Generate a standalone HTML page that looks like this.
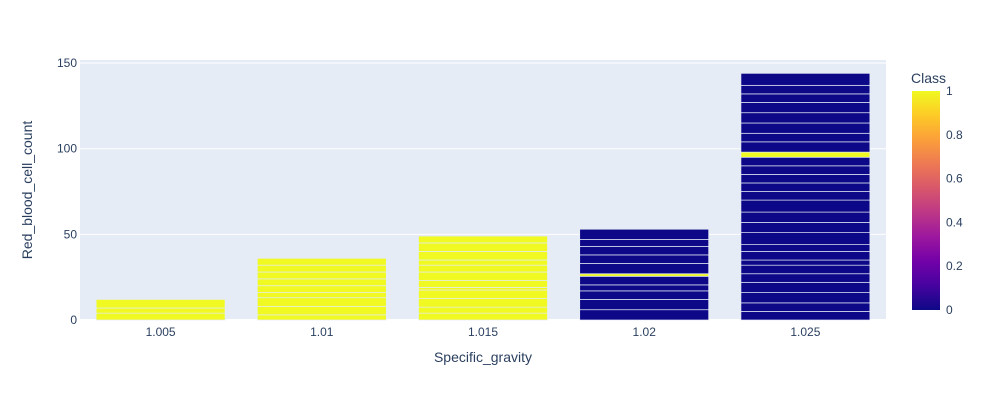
<!DOCTYPE html>
<html><head><meta charset="utf-8"><style>
body{margin:0;background:#fff;font-family:"Liberation Sans",Arial,sans-serif}
svg text{font-family:"Liberation Sans",Arial,sans-serif;fill:#2a3f5f}
</style></head><body>
<svg id="chart" width="983" height="400">
<defs><linearGradient id="plasma" x1="0" y1="1" x2="0" y2="0">
<stop offset="0" stop-color="#0d0887"/><stop offset="0.111" stop-color="#46039f"/><stop offset="0.222" stop-color="#7201a8"/><stop offset="0.333" stop-color="#9c179e"/><stop offset="0.444" stop-color="#bd3786"/><stop offset="0.556" stop-color="#d8576b"/><stop offset="0.667" stop-color="#ed7953"/><stop offset="0.778" stop-color="#fb9f3a"/><stop offset="0.889" stop-color="#fdca26"/><stop offset="1" stop-color="#f0f921"/></linearGradient></defs>
<rect x="80" y="60" width="806" height="260" fill="#e5ecf6"/>
<g id="grid"></g><g id="bars"></g><g id="axes"></g>
<text x="483" y="362" text-anchor="middle" font-size="14">Specific_gravity</text>
<text transform="translate(32,190) rotate(-90)" text-anchor="middle" font-size="14">Red_blood_cell_count</text>
<text x="911" y="83" font-size="14">Class</text>
<rect x="912" y="91" width="28" height="219" fill="url(#plasma)"/>
<g id="cb"></g>
</svg>
<script>
const categories=["1.005","1.01","1.015","1.02","1.025"];
const segValues=[[4,3,5],[3,5,5,3,4,4,4,4,4],[4,3.5,5,5,1.5,4,5,4,3,5,5,4],[6,6,5,3.5,5,1.5,6,5,5,4,6],[5,5,6,6,5,5,3,5,4,7,6,6,7,5,5,5,5,5,3,6,5,6,6,6,5,5,7]];
const segClass=[[1,1,1],[1,1,1,1,1,1,1,1,1],[1,1,1,1,1,1,1,1,1,1,1,1],[0,0,0,0,0,1,0,0,0,0,0],[0,0,0,0,0,0,0,0,0,0,0,0,0,0,0,0,0,0,1,0,0,0,0,0,0,0,0]];
const yTicks=[0,50,100,150];
const cbTicks=[0,0.2,0.4,0.6,0.8,1];
const NS="http://www.w3.org/2000/svg";
const PW=806;
function y(v){return 320-v*1.713;}
function x(i){return 80+PW/categories.length*(i+0.5);}
function mk(t,a,p){const e=document.createElementNS(NS,t);for(const k in a)e.setAttribute(k,a[k]);p.appendChild(e);return e;}
const grid=document.getElementById('grid'),bars=document.getElementById('bars'),axes=document.getElementById('axes'),cb=document.getElementById('cb');
yTicks.forEach(t=>{
 const l=mk('line',{x1:80,x2:80+PW,y1:y(t),y2:y(t),stroke:'#fff','stroke-width':t===0?2:1},grid);
 
 
 const tx=mk('text',{x:77,y:y(t)+4,'text-anchor':'end','font-size':12},axes);tx.textContent=t;
 
 
});
const bw=PW/categories.length*0.8;
categories.forEach((c,i)=>{
 let acc=0;
 segValues[i].forEach((v,j)=>{
  const r=mk('rect',{x:x(i)-bw/2,y:y(acc+v),width:bw,height:v*1.713,fill:segClass[i][j]?'#f0f921':'#0d0887',stroke:'#e5ecf6','stroke-width':0.7},bars);
  
  
  acc+=v;
 });
 const tx=mk('text',{x:x(i),y:336,'text-anchor':'middle','font-size':12},axes);tx.textContent=c;
 
 
});
cbTicks.forEach(t=>{
 const yy=310-t*219;
 const tx=mk('text',{x:946,y:yy+4,'font-size':12},cb);tx.textContent=t;
 
 
});
</script>
</body></html>
